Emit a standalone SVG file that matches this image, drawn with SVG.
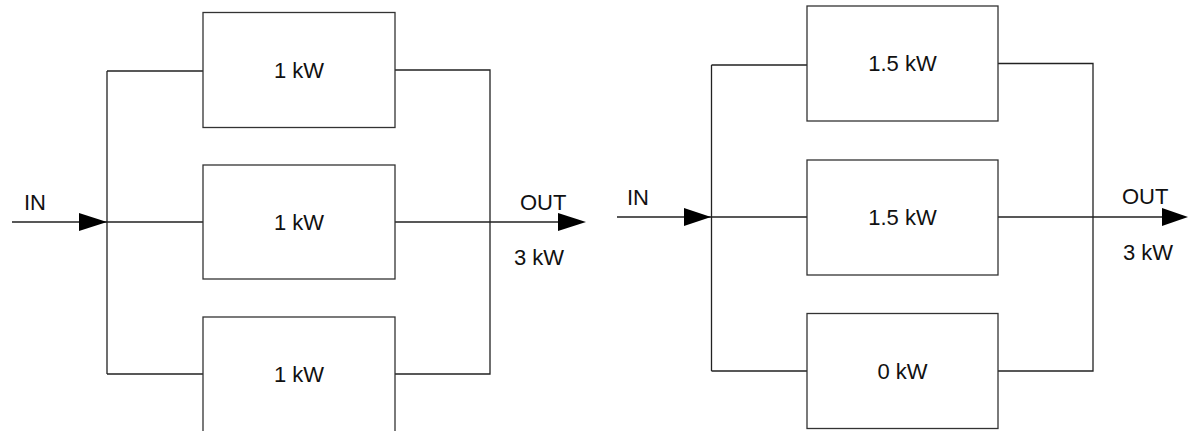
<svg xmlns="http://www.w3.org/2000/svg" width="1196" height="431" viewBox="0 0 1196 431">
<style>
.box{fill:#fff;stroke:#333;stroke-width:1.3}
.ln{fill:none;stroke:#222;stroke-width:1.3}
.ah{fill:#000}
text{font-family:"Liberation Sans",Arial,sans-serif;font-size:22px;fill:#111}
.c{text-anchor:middle}
</style>
<rect width="1196" height="431" fill="#fff"/>
<g id="connectors">
<path class="ln" d="M12,222H107M107,71V374M107,71H203M107,222H203M107,374H203"/>
<polygon class="ah" points="79,213 107,222 79,231"/>
<path class="ln" d="M395,70H490V374H395M395,222H562"/>
<polygon class="ah" points="558,213 586,222 558,231"/>
<path class="ln" d="M617,217H711.5M711.5,65V371M711.5,65H807M711.5,217H807M711.5,371H807"/>
<polygon class="ah" points="684,208 711,217 684,226"/>
<path class="ln" d="M998,63.5H1093V371H998M998,217H1165"/>
<polygon class="ah" points="1162,208 1188,217 1162,226"/>
</g>
<g id="labels">
<text x="24" y="210">IN</text>
<text x="520" y="210">OUT</text>
<text x="514" y="265">3 kW</text>
<text x="627" y="205">IN</text>
<text x="1122" y="204">OUT</text>
<text x="1123" y="260">3 kW</text>
</g>
<g id="L1"><rect class="box" x="203" y="12.5" width="192" height="115"/><text class="c" x="299" y="78">1 kW</text></g>
<g id="L2"><rect class="box" x="203" y="165" width="192" height="114"/><text class="c" x="299" y="230">1 kW</text></g>
<g id="L3"><rect class="box" x="203" y="317" width="192" height="116"/><text class="c" x="299" y="382">1 kW</text></g>
<g id="R1"><rect class="box" x="807" y="6" width="191" height="115"/><text class="c" x="902.5" y="71">1.5 kW</text></g>
<g id="R2"><rect class="box" x="807" y="160" width="191" height="115"/><text class="c" x="902.5" y="225">1.5 kW</text></g>
<g id="R3"><rect class="box" x="807" y="313.5" width="191" height="115"/><text class="c" x="902.5" y="379">0 kW</text></g>
</svg>
